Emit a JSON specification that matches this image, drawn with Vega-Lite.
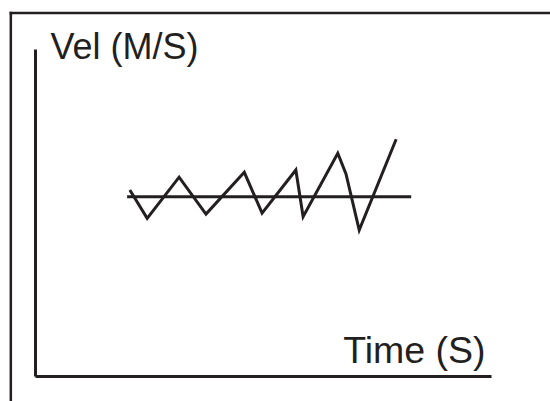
{
  "$schema": "https://vega.github.io/schema/vega-lite/v6.json",
  "autosize": "none",
  "width": 456,
  "height": 327,
  "padding": {"left": 35, "top": 49, "right": 59, "bottom": 25},
  "background": "white",
  "config": {"view": {"stroke": null}},
  "datasets": {
    "wave": [
      {"t": 20.8, "v": 56.9},
      {"t": 24.6, "v": 48.2},
      {"t": 31.6, "v": 60.8},
      {"t": 37.5, "v": 49.5},
      {"t": 45.9, "v": 62.3},
      {"t": 49.8, "v": 49.8},
      {"t": 57.2, "v": 63.0},
      {"t": 58.8, "v": 48.7},
      {"t": 66.4, "v": 68.1},
      {"t": 68.2, "v": 61.8},
      {"t": 71.1, "v": 44.6},
      {"t": 79.2, "v": 72.4}
    ],
    "mean": [{"t1": 20.2, "t2": 82.5, "v": 54.8}],
    "frame": [
      {"x1": -5.3, "x2": 120, "y1": 111.0, "y2": 111.0},
      {"x1": -5.3, "x2": -5.3, "y1": 111.0, "y2": -15}
    ]
  },
  "layer": [
    {
      "data": {"name": "frame"},
      "mark": {"type": "rule", "color": "#231f20", "strokeWidth": 2.5, "strokeCap": "square"},
      "encoding": {
        "x": {"field": "x1", "type": "quantitative", "scale": {"domain": [0, 100], "nice": false, "zero": false},
          "axis": {"domain": true, "domainColor": "#231f20", "domainWidth": 3, "ticks": false, "labels": false, "grid": false,
            "title": "Time (S)", "titleFont": "Liberation Sans", "titleFontSize": 37.5, "titleFontWeight": "normal", "titleColor": "#231f20",
            "titleAlign": "right", "titleBaseline": "alphabetic", "titleX": 450, "titleY": -14, "titleAnchor": null}},
        "x2": {"field": "x2"},
        "y": {"field": "y1", "type": "quantitative", "scale": {"domain": [0, 100], "nice": false, "zero": false},
          "axis": {"domain": true, "domainColor": "#231f20", "domainWidth": 3, "ticks": false, "labels": false, "grid": false,
            "title": "Vel (M/S)", "titleFont": "Liberation Sans", "titleFontSize": 36, "titleFontWeight": "normal", "titleColor": "#231f20",
            "titleAngle": 0, "titleAlign": "left", "titleBaseline": "alphabetic", "titleX": 15, "titleY": 9, "titleAnchor": null}},
        "y2": {"field": "y2"}
      }
    },
    {
      "data": {"name": "mean"},
      "mark": {"type": "rule", "color": "#231f20", "strokeWidth": 3},
      "encoding": {
        "x": {"field": "t1", "type": "quantitative"},
        "x2": {"field": "t2"},
        "y": {"field": "v", "type": "quantitative"}
      }
    },
    {
      "data": {"name": "wave"},
      "mark": {"type": "line", "color": "#231f20", "strokeWidth": 3, "strokeJoin": "miter", "strokeCap": "butt"},
      "encoding": {
        "x": {"field": "t", "type": "quantitative"},
        "y": {"field": "v", "type": "quantitative"}
      }
    }
  ]
}
